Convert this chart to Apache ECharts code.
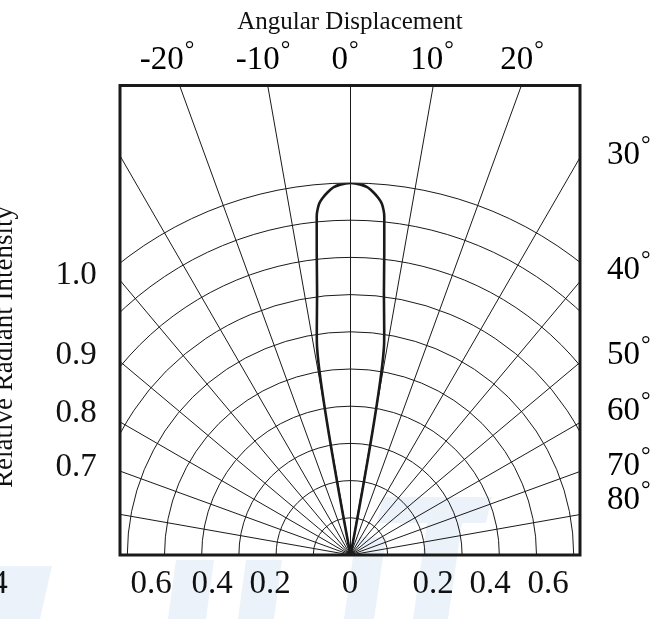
<!DOCTYPE html>
<html>
<head>
<meta charset="utf-8">
<script src="https://cdn.jsdelivr.net/npm/echarts@6/dist/echarts.min.js"></script>
<style>
  html, body { margin: 0; padding: 0; background: #fff; }
  #chart { width: 667px; height: 619px; }
</style>
</head>
<body>
<div id="chart"></div>
<script>
// 辐射图数据 (角度, 相对强度)
const lobeAngles = [-9, -9, -8.5, -7.3, -6.4, -5.7, -5.5, -5.1, -4.5, -3.6, -2.7, -1.6, 0,
                    1.6, 2.7, 3.6, 4.5, 5.1, 5.5, 5.7, 6.4, 7.3, 8.5, 9, 9];
const lobeValues = [0, 0.578, 0.613, 0.707, 0.814, 0.914, 0.93, 0.948, 0.962, 0.977, 0.989, 0.996, 1.0,
                    0.996, 0.989, 0.977, 0.962, 0.948, 0.93, 0.914, 0.814, 0.707, 0.613, 0.578, 0];

// 刻度文字
const topTicks = ['-20', '-10', '0', '10', '20'];
const rightTicks = ['30', '40', '50', '60', '70', '80'];
const leftTicks = ['1.0', '0.9', '0.8', '0.7'];
const bottomTicks = ['0.4', '0.6', '0.4', '0.2', '0', '0.2', '0.4', '0.6'];

// 版面位置
const topTickX = [167, 263, 345, 432, 522];
const rightTickY = [155, 270, 355, 411, 466, 500];
const leftTickY = [275, 355, 413, 467];
const bottomTickX = [-13, 151, 212, 270, 350, 433, 490, 548];

// 背景水印（浅蓝色块）
const watermarkShapes = [
    [[383, 497], [492, 497], [486, 523], [377, 523]],
    [[427, 523], [462, 523], [448, 619], [413, 619]],
    [[356, 537], [386, 537], [374, 619], [344, 619]],
    [[0, 566], [52, 566], [40, 619], [0, 619]],
    [[176, 560], [214, 560], [206, 619], [168, 619]],
    [[246, 560], [282, 560], [274, 619], [238, 619]]
];

const FONT = '"Liberation Serif", "Times New Roman", serif';
const CX = 350.5, CY = 555;
const FRAME = { x: 120, y: 85.5, width: 460, height: 469.5 };

document.addEventListener('DOMContentLoaded', function () {
    const chart = echarts.init(document.getElementById('chart'));

    const degText = function (t) {
        return '{n|' + t + '}{d|°}';
    };
    const degRich = {
        n: { fontFamily: FONT, fontSize: 33, lineHeight: 42, color: '#111' },
        d: { fontFamily: FONT, fontSize: 24, lineHeight: 24, color: '#111', verticalAlign: 'top', padding: [0, 0, 0, 1] }
    };

    const graphics = [];
    watermarkShapes.forEach(function (pts) {
        graphics.push({ type: 'polygon', z: -5, silent: true, shape: { points: pts }, style: { fill: '#ebf2f9' } });
    });
    // 遮罩：裁掉边框外的网格线
    graphics.push({ type: 'rect', z: 50, silent: true, shape: { x: 0, y: 0, width: 667, height: FRAME.y }, style: { fill: '#fff' } });
    graphics.push({ type: 'rect', z: 50, silent: true, shape: { x: 0, y: 0, width: FRAME.x, height: CY + 4 }, style: { fill: '#fff' } });
    graphics.push({ type: 'rect', z: 50, silent: true, shape: { x: FRAME.x + FRAME.width, y: 0, width: 100, height: CY + 4 }, style: { fill: '#fff' } });
    // 边框
    graphics.push({ type: 'rect', z: 60, silent: true, shape: FRAME, style: { fill: null, stroke: '#1a1a1a', lineWidth: 3 } });

    graphics.push({
        type: 'text', z: 70, x: 350, y: 22,
        style: { text: 'Angular Displacement', font: '25px ' + FONT, fill: '#111', textAlign: 'center', textVerticalAlign: 'middle' }
    });
    graphics.push({
        type: 'text', z: 70, x: 18, y: 347, rotation: Math.PI / 2,
        style: { text: 'Relative Radiant Intensity', font: '27px ' + FONT, fill: '#111', textAlign: 'center', textVerticalAlign: 'bottom' }
    });
    topTicks.forEach(function (t, i) {
        graphics.push({ type: 'text', z: 70, x: topTickX[i], y: 60,
            style: { text: degText(t), rich: degRich, textAlign: 'center', textVerticalAlign: 'middle' } });
    });
    rightTicks.forEach(function (t, i) {
        graphics.push({ type: 'text', z: 70, x: 607, y: rightTickY[i],
            style: { text: degText(t), rich: degRich, textAlign: 'left', textVerticalAlign: 'middle' } });
    });
    leftTicks.forEach(function (t, i) {
        graphics.push({ type: 'text', z: 70, x: 76, y: leftTickY[i],
            style: { text: t, font: '33px ' + FONT, fill: '#111', textAlign: 'center', textVerticalAlign: 'middle' } });
    });
    bottomTicks.forEach(function (t, i) {
        graphics.push({ type: 'text', z: 70, x: bottomTickX[i], y: 584,
            style: { text: t, font: '33px ' + FONT, fill: '#111', textAlign: 'center', textVerticalAlign: 'middle' } });
    });

    const option = {
        backgroundColor: '#fff',
        animation: false,
        polar: [
            { center: [CX, CY], radius: 372 },
            { center: [CX, CY], radius: 520 }
        ],
        angleAxis: [
            {
                polarIndex: 0, type: 'value', min: -90, max: 90,
                startAngle: 180, endAngle: 0, clockwise: true,
                axisLine: { show: false }, axisTick: { show: false }, axisLabel: { show: false },
                splitLine: { show: false }
            },
            {
                polarIndex: 1, type: 'value', min: -90, max: 90, interval: 10,
                startAngle: 180, endAngle: 0, clockwise: true,
                axisLine: { show: false }, axisTick: { show: false }, axisLabel: { show: false },
                splitLine: { show: true, lineStyle: { color: '#1a1a1a', width: 1 } }
            }
        ],
        radiusAxis: [
            {
                polarIndex: 0, type: 'value', min: 0, max: 1, interval: 0.1,
                axisLine: { show: false }, axisTick: { show: false }, axisLabel: { show: false },
                splitLine: { show: true, lineStyle: { color: '#1a1a1a', width: 1 } }
            },
            {
                polarIndex: 1, type: 'value', min: 0, max: 1,
                axisLine: { show: false }, axisTick: { show: false }, axisLabel: { show: false },
                splitLine: { show: false }
            }
        ],
        series: [
            {
                name: 'Relative Radiant Intensity',
                type: 'line',
                coordinateSystem: 'polar',
                polarIndex: 0,
                data: lobeValues.map(function (r, i) { return [r, lobeAngles[i]]; }),
                symbol: 'none',
                smooth: 0.2,
                lineStyle: { color: '#1a1a1a', width: 2.6 },
                z: 10
            }
        ],
        graphic: graphics
    };
    chart.setOption(option);
});
</script>
</body>
</html>
